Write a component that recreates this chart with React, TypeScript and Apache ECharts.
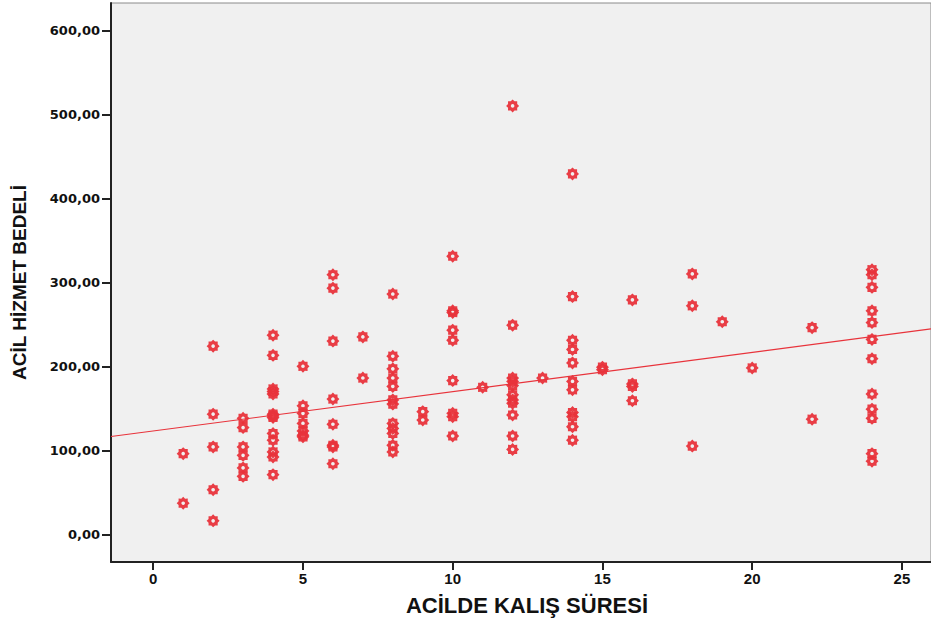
import React, { useEffect, useRef } from "react";
import * as echarts from "echarts";

// X values (ACİLDE KALIŞ SÜRESİ) and the fee readings observed at each
const stayValues = [1, 2, 3, 4, 5, 6, 7, 8, 9, 10, 11, 12, 13, 14, 15, 16, 18, 19, 20, 22, 24];
const feesByStay = [
  [96, 37],
  [224, 143, 104, 53, 16],
  [138, 127, 104, 94, 79, 69],
  [237, 213, 173, 170, 167, 143, 141, 139, 120, 112, 98, 92, 71],
  [200, 153, 144, 132, 123, 118, 116],
  [309, 293, 230, 161, 131, 106, 104, 84],
  [235, 186],
  [286, 212, 197, 186, 176, 160, 155, 132, 126, 120, 106, 98],
  [146, 136],
  [331, 266, 264, 243, 231, 183, 144, 140, 117],
  [175],
  [510, 249, 186, 182, 177, 166, 160, 156, 142, 117, 101],
  [186],
  [429, 283, 231, 220, 204, 182, 172, 145, 140, 128, 112],
  [199, 196],
  [279, 179, 176, 159],
  [310, 272, 105],
  [253],
  [198],
  [246, 137],
  [315, 309, 294, 266, 252, 232, 209, 167, 149, 138, 96, 87],
];

// Fit line end points (as drawn in the reference)
const fitLine = [
  [-1.41, 116.4],
  [25.97, 244.5],
];

const xTicks = [0, 5, 10, 15, 20, 25];
const yTicks = [0, 100, 200, 300, 400, 500, 600];

const X_MIN = -1.41;
const X_MAX = 25.97;
const Y_MIN = -33;
const Y_MAX = 632.5;

function markerPath(): string {
  const cx = 10,
    cy = 10;
  const n = 8;
  const pts: string[] = [];
  for (let i = 0; i < 2 * n; i++) {
    const r = i % 2 === 0 ? 10 : 7.6;
    const a = (Math.PI * i) / n - Math.PI / 2;
    pts.push((cx + r * Math.cos(a)).toFixed(3) + " " + (cy + r * Math.sin(a)).toFixed(3));
  }
  let d = "M" + pts.join(" L") + " Z";
  const hole: string[] = [];
  const m = 12;
  for (let i = m; i > 0; i--) {
    const a = (2 * Math.PI * i) / m;
    hole.push((cx + 2.8 * Math.cos(a)).toFixed(3) + " " + (cy + 2.8 * Math.sin(a)).toFixed(3));
  }
  d += " M" + hole.join(" L") + " Z";
  return "path://" + d;
}

export default function App() {
  const ref = useRef<HTMLDivElement>(null);

  useEffect(() => {
    if (!ref.current) return;
    const chart = echarts.init(ref.current, undefined, { renderer: "svg" });

    const points: number[][] = [];
    stayValues.forEach((x, i) => {
      feesByStay[i].forEach((y) => points.push([x, y]));
    });

    const red = "#e8333b";

    chart.setOption({
      animation: false,
      backgroundColor: "#ffffff",
      grid: {
        left: 111,
        right: 0,
        top: 3,
        bottom: 63,
        show: true,
        backgroundColor: "#f0f0f0",
        borderColor: "#8a8a8a",
        borderWidth: 1,
      },
      xAxis: {
        type: "value",
        min: X_MIN,
        max: X_MAX,
        name: "ACİLDE KALIŞ SÜRESİ",
        nameLocation: "middle",
        nameGap: 32,
        nameTextStyle: {
          fontFamily: "'Liberation Sans', Arial, sans-serif",
          fontWeight: "bold",
          fontSize: 22,
          color: "#111",
          padding: [0, 0, 0, 12],
        },
        axisLine: { show: true, onZero: false, lineStyle: { color: "#222", width: 2 } },
        axisTick: {
          show: true,
          length: 8,
          customValues: xTicks,
          lineStyle: { color: "#222", width: 2 },
        },
        axisLabel: {
          customValues: xTicks,
          margin: 9,
          fontFamily: "'Liberation Sans Narrow', 'Liberation Sans', Arial, sans-serif",
          fontWeight: "bold",
          fontSize: 15,
          color: "#111",
        },
        splitLine: { show: false },
      },
      yAxis: {
        type: "value",
        min: Y_MIN,
        max: Y_MAX,
        name: "ACİL HİZMET BEDELİ",
        nameLocation: "middle",
        nameRotate: 90,
        nameGap: 82,
        nameTextStyle: {
          fontFamily: "'Liberation Sans', Arial, sans-serif",
          fontWeight: "bold",
          fontSize: 19,
          color: "#111",
        },
        axisLine: { show: true, onZero: false, lineStyle: { color: "#222", width: 2 } },
        axisTick: {
          show: true,
          length: 9,
          customValues: yTicks,
          lineStyle: { color: "#222", width: 2 },
        },
        axisLabel: {
          customValues: yTicks,
          margin: 11,
          formatter: (v: number) => v.toFixed(2).replace(".", ","),
          fontFamily: "'DejaVu Sans', Verdana, sans-serif",
          fontWeight: "bold",
          fontSize: 13,
          color: "#111",
        },
        splitLine: { show: false },
      },
      series: [
        {
          type: "line",
          data: fitLine,
          symbol: "none",
          lineStyle: { color: red, width: 1.2 },
          silent: true,
          z: 1,
        },
        {
          type: "scatter",
          data: points,
          symbol: markerPath(),
          symbolSize: 13,
          itemStyle: { color: red, opacity: 0.95 },
          z: 2,
        },
      ],
    });

    return () => chart.dispose();
  }, []);

  return (
    <div
      ref={ref}
      style={{ position: "fixed", left: 0, top: 0, width: 931, height: 625 }}
    />
  );
}
